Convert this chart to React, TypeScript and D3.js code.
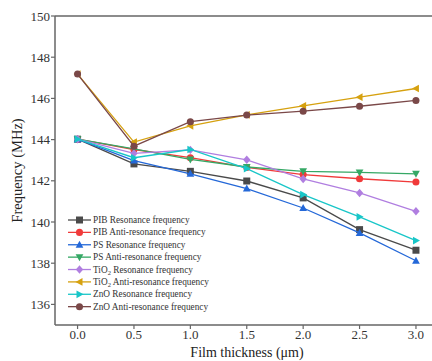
import React from "react";
import * as d3 from "d3";

const thickness = [0, 0.5, 1.0, 1.5, 2.0, 2.5, 3.0];
const pibRes = [144.02, 142.82, 142.46, 141.99, 141.17, 139.63, 138.63];
const pibAnti = [144.02, 143.52, 143.12, 142.65, 142.3, 142.1, 141.94];
const psRes = [144.02, 142.98, 142.34, 141.62, 140.68, 139.47, 138.12];
const psAnti = [144.02, 143.55, 143.04, 142.67, 142.46, 142.41, 142.34];
const tio2Res = [144.02, 143.33, 143.5, 143.02, 142.09, 141.41, 140.52];
const tio2Anti = [147.18, 143.88, 144.67, 145.2, 145.64, 146.06, 146.48];
const znoRes = [144.02, 143.12, 143.52, 142.59, 141.33, 140.25, 139.1];
const znoAnti = [147.18, 143.68, 144.87, 145.19, 145.38, 145.62, 145.9];

const xTicks = [0, 0.5, 1.0, 1.5, 2.0, 2.5, 3.0];
const yTicks = [136, 138, 140, 142, 144, 146, 148, 150];

type Series = { name: string; sub?: string; rest: string; values: number[]; color: string; marker: string };

const seriesList: Series[] = [
  { name: "PIB", rest: " Resonance frequency", values: pibRes, color: "#4a4a4a", marker: "square" },
  { name: "PIB", rest: " Anti-resonance frequency", values: pibAnti, color: "#f03a3a", marker: "circle" },
  { name: "PS", rest: " Resonance frequency", values: psRes, color: "#2468d8", marker: "triUp" },
  { name: "PS", rest: " Anti-resonance frequency", values: psAnti, color: "#35a865", marker: "triDown" },
  { name: "TiO", sub: "2", rest: " Resonance frequency", values: tio2Res, color: "#b07ee0", marker: "diamond" },
  { name: "TiO", sub: "2", rest: " Anti-resonance frequency", values: tio2Anti, color: "#d6a10f", marker: "triLeft" },
  { name: "ZnO", rest: " Resonance frequency", values: znoRes, color: "#18c6c8", marker: "triRight" },
  { name: "ZnO", rest: " Anti-resonance frequency", values: znoAnti, color: "#7a4848", marker: "circle" },
];

const W = 432;
const H = 361;
const left = 55;
const top = 16;
const bottom = 325;

const x = d3.scaleLinear().domain([-0.2, 3.2]).range([left, left + 3.4 * 112.8]);
const y = d3.scaleLinear().domain([135, 150]).range([bottom, top]);

function markerPath(kind: string, s: number): string {
  const h = s / 2;
  switch (kind) {
    case "square":
      return `M${-h},${-h}H${h}V${h}H${-h}Z`;
    case "circle":
      return d3.symbol(d3.symbolCircle, s * s * 0.8)() || "";
    case "triUp":
      return `M0,${-h * 1.15}L${h * 1.1},${h * 0.85}L${-h * 1.1},${h * 0.85}Z`;
    case "triDown":
      return `M0,${h * 1.15}L${h * 1.1},${-h * 0.85}L${-h * 1.1},${-h * 0.85}Z`;
    case "triLeft":
      return `M${-h * 1.15},0L${h * 0.85},${-h * 1.1}L${h * 0.85},${h * 1.1}Z`;
    case "triRight":
      return `M${h * 1.15},0L${-h * 0.85},${-h * 1.1}L${-h * 0.85},${h * 1.1}Z`;
    case "diamond":
      return `M0,${-h * 1.2}L${h * 1.05},0L0,${h * 1.2}L${-h * 1.05},0Z`;
  }
  return "";
}

export default function App() {
  const line = d3
    .line<number>()
    .x((_, i) => x(thickness[i]))
    .y((d) => y(d));
  const axisColor = "#666";
  const font = "'Liberation Serif', 'Times New Roman', serif";
  const legendX = 68;
  const legendY0 = 220;
  const legendStep = 12.38;
  return (
    <svg width={W} height={H} style={{ position: "absolute", left: 0, top: 0 }} fontFamily={font}>
      <rect width={W} height={H} fill="#fff" />
      {seriesList.map((s, si) => (
        <g key={si}>
          <path d={line(s.values) || ""} fill="none" stroke={s.color} strokeWidth={1.3} />
          {s.values.map((v, i) => (
            <path
              key={i}
              d={markerPath(s.marker, 7)}
              transform={`translate(${x(thickness[i])},${y(v)})`}
              fill={s.color}
            />
          ))}
        </g>
      ))}
      {/* axes frame */}
      <line x1={left} x2={W} y1={top} y2={top} stroke={axisColor} strokeWidth={1.5} />
      <line x1={left} x2={W} y1={bottom} y2={bottom} stroke={axisColor} strokeWidth={1.5} />
      <line x1={left} x2={left} y1={top} y2={bottom} stroke={axisColor} strokeWidth={1.5} />
      {yTicks.map((t) => (
        <g key={t}>
          <line x1={left - 4} x2={left} y1={y(t)} y2={y(t)} stroke={axisColor} strokeWidth={1.2} />
          <text x={left - 5} y={y(t)} dy="0.35em" textAnchor="end" fontSize={13} fill="#333">
            {t}
          </text>
        </g>
      ))}
      {xTicks.map((t) => (
        <g key={t}>
          <line x1={x(t)} x2={x(t)} y1={bottom} y2={bottom + 4} stroke={axisColor} strokeWidth={1.2} />
          <text x={x(t)} y={bottom + 14} textAnchor="middle" fontSize={13} fill="#333">
            {t.toFixed(1)}
          </text>
        </g>
      ))}
      <text x={247} y={357} textAnchor="middle" fontSize={14} fill="#222">
        Film thickness (μm)
      </text>
      <text
        transform={`translate(22,${(top + bottom) / 2}) rotate(-90)`}
        textAnchor="middle"
        fontSize={14.5}
        fill="#222"
      >
        Frequency (MHz)
      </text>
      {seriesList.map((s, si) => {
        const ly = legendY0 + si * legendStep;
        return (
          <g key={"l" + si}>
            <line x1={legendX} x2={legendX + 23} y1={ly} y2={ly} stroke={s.color} strokeWidth={1.3} />
            <path d={markerPath(s.marker, 7)} transform={`translate(${legendX + 11.5},${ly})`} fill={s.color} />
            <text x={legendX + 25} y={ly} dy="0.33em" fontSize={9.3} fill="#333">
              {s.name}
              {s.sub ? (
                <tspan fontSize={6.5} dy="2">
                  {s.sub}
                </tspan>
              ) : null}
              {s.sub ? <tspan dy="-2">{s.rest}</tspan> : s.rest}
            </text>
          </g>
        );
      })}
    </svg>
  );
}
